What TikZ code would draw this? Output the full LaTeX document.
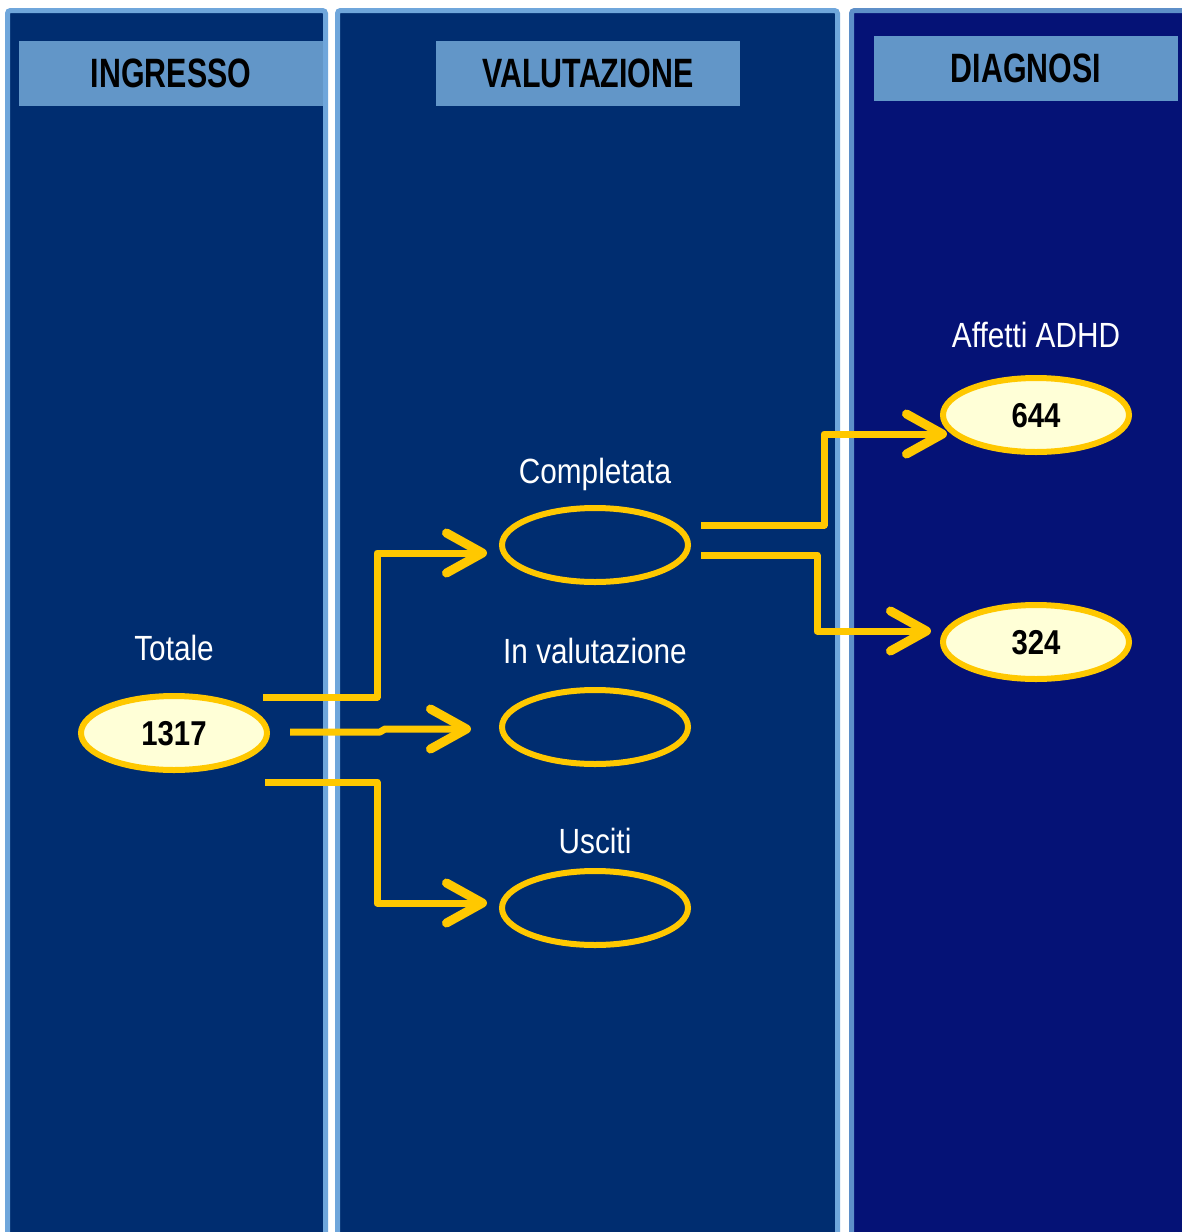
\documentclass[tikz,border=0pt]{standalone}
\usepackage{fontspec}
\setmainfont{Liberation Sans}[FakeStretch=0.85]
\newfontfamily\headfont{Liberation Sans}[FakeStretch=0.74]
\usetikzlibrary{arrows.meta,positioning,shapes.geometric}

\definecolor{lanefill}{RGB}{0,45,112}
\definecolor{lanefilldark}{RGB}{5,18,118}
\definecolor{laneborder}{RGB}{111,166,219}
\definecolor{laneborderdark}{RGB}{94,143,200}
\definecolor{headfill}{RGB}{98,150,200}
\definecolor{gold}{RGB}{255,200,0}
\definecolor{cream}{RGB}{255,255,215}

\begin{document}
\begin{tikzpicture}[x=0.5pt,y=-0.5pt,
  lane/.style={draw=laneborder,line width=2.5pt,fill=lanefill,rounded corners=1.5pt},
  hdr/.style={fill=headfill,minimum width=152pt,minimum height=32.5pt,inner sep=0pt,
    text height=14.5pt,text depth=0pt,font=\headfont\bfseries\fontsize{20.5}{24}\selectfont},
  oval/.style={ellipse,draw=gold,line width=3pt,minimum width=93pt,minimum height=37pt,inner sep=0pt},
  ovalfull/.style={oval,fill=cream,text height=12.35pt,text depth=0pt,
    font=\bfseries\fontsize{17.25}{20}\selectfont},
  lbl/.style={text=white,inner sep=0pt,text depth=0pt,font=\fontsize{17.5}{21}\selectfont},
  flow/.style={draw=gold,line width=3.5pt,line join=round,
    -{Straight Barb[round,length=18pt,width=20pt,line width=4.5pt]}}]
  \clip (0,0) rectangle (1182,1232);
  \fill[white] (0,0) rectangle (1182,1232);

  \draw[lane] (7.5,10.5) rectangle (325.5,1260);
  \draw[lane] (337.5,10.5) rectangle (837.5,1260);
  \draw[lane,draw=laneborderdark,fill=lanefilldark] (851.5,10.5) rectangle (1210,1260);

  \node[hdr] (ingr) at (171,73) {INGRESSO};
  \node[hdr] (valh) at (588,73) {VALUTAZIONE};
  \node[hdr] (diag) at (1026,68) {DIAGNOSI};

  \node[ovalfull] (tot)     at (174,733)  {1317};
  \node[oval]     (compl)   at (595,545)  {};
  \node[oval]     (valut)   at (595,727)  {};
  \node[oval]     (usc)     at (595,908)  {};
  \node[ovalfull] (adhd)    at (1036,415) {644};
  \node[ovalfull] (nonadhd) at (1036,642) {324};

  \node[lbl,above=16pt of tot]     (totl)   {Totale};
  \node[lbl,above=10.5pt of compl] (compll) {Completata};
  \node[lbl,above=11.5pt of valut] (valutl) {In valutazione};
  \node[lbl,above=7pt of usc]      (uscl)   {Usciti};
  \node[lbl,above=13.5pt of adhd]  (adhdl)  {Affetti ADHD};

  \coordinate (s1) at (263,697);
  \coordinate (s2) at (290,732);
  \coordinate (s3) at (265,782);
  \coordinate (s4) at (701,525);
  \coordinate (s5) at (701,555);

  \draw[flow,shorten >=6pt] (s1) -| ++(114,-144) -- ([yshift=-4pt]compl.west);
  \draw[flow,shorten >=14pt] (s2) -- ++(90,0) -- ++(5,-3) -- ([yshift=-1pt]valut.west);
  \draw[flow,shorten >=6pt] (s3) -| ++(112,121) -- ([yshift=2.5pt]usc.west);
  \draw[flow] (s4) -| ++(123,-91) -- ([xshift=3.5pt,yshift=-9.5pt]adhd.west);
  \draw[flow,shorten >=4.5pt] (s5) -| ++(116,76) -- ([yshift=5.5pt]nonadhd.west);
\end{tikzpicture}
\end{document}
